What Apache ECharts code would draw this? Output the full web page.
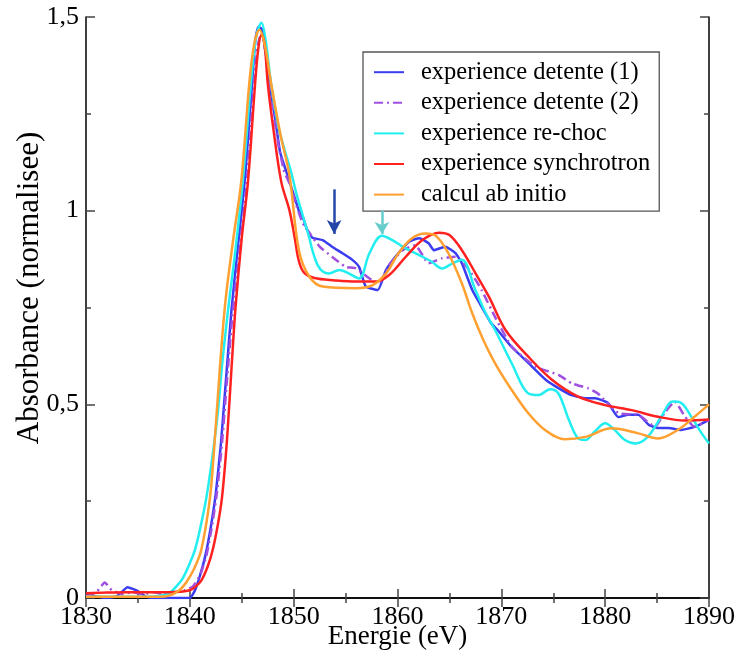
<!DOCTYPE html>
<html>
<head>
<meta charset="utf-8">
<script src="https://cdn.jsdelivr.net/npm/echarts@6/dist/echarts.min.js"></script>
<style>
html,body{margin:0;padding:0;background:#fff;}
#chart{width:738px;height:659px;}
</style>
</head>
<body>
<div id="chart"></div>
<script>
// ---- data (Energie eV, Absorbance) ----
const seriesNames = ['experience detente (1)', 'experience detente (2)', 'experience re-choc', 'experience synchrotron', 'calcul ab initio'];

const detente1 = [[1830,0.008],[1831,0.004],[1832,0.0],[1833,0.005],[1834,0.028],[1835,0.018],[1835.8,0.003],[1837,0.0],[1838,0.0],[1839,0.0],[1840,0.0],[1840.5,0.02],[1841,0.06],[1841.5,0.11],[1842,0.18],[1842.5,0.27],[1843,0.4],[1843.5,0.57],[1844,0.74],[1844.6,0.9],[1845.3,1.08],[1846.0,1.33],[1846.3,1.44],[1846.6,1.475],[1846.9,1.47],[1847.3,1.41],[1847.6,1.34],[1848.2,1.24],[1848.7,1.15],[1849.3,1.1],[1849.9,1.05],[1850.5,1.0],[1850.9,0.982],[1851.3,0.95],[1851.8,0.93],[1852.8,0.924],[1853.7,0.907],[1854.7,0.89],[1855.65,0.873],[1856.3,0.855],[1856.95,0.804],[1858.1,0.795],[1858.9,0.847],[1859.8,0.881],[1861.1,0.92],[1862.1,0.929],[1863.0,0.916],[1863.5,0.898],[1864.6,0.907],[1865.6,0.89],[1866.2,0.864],[1867.2,0.795],[1868.1,0.752],[1869.0,0.71],[1869.7,0.69],[1871.0,0.648],[1872.6,0.607],[1874.3,0.563],[1875.5,0.542],[1876.75,0.524],[1878.1,0.516],[1879.05,0.516],[1880.3,0.503],[1881.26,0.467],[1882.2,0.473],[1883.2,0.473],[1884.2,0.447],[1885.1,0.439],[1886.1,0.439],[1887.3,0.434],[1888.65,0.442],[1890,0.46]];

const detente2 = [[1830,0.005],[1831,0.015],[1831.8,0.04],[1832.5,0.02],[1833.5,0.01],[1834.5,0.015],[1835.5,0.01],[1836.5,0.015],[1837.5,0.01],[1838.5,0.015],[1839.5,0.02],[1840.3,0.03],[1841,0.06],[1841.6,0.11],[1842.1,0.18],[1842.6,0.27],[1843.1,0.4],[1843.6,0.57],[1844.1,0.73],[1844.8,0.9],[1845.5,1.075],[1846.1,1.3],[1846.5,1.42],[1846.8,1.45],[1847.1,1.44],[1847.5,1.36],[1848,1.26],[1848.6,1.16],[1849.1,1.1],[1849.6,1.07],[1850.3,1.01],[1850.9,0.967],[1852.5,0.907],[1853.7,0.881],[1855,0.855],[1856,0.851],[1857.3,0.825],[1858.2,0.812],[1859.2,0.86],[1860.5,0.898],[1861.7,0.911],[1863,0.864],[1864.3,0.877],[1865.6,0.881],[1866.9,0.847],[1868.1,0.795],[1869.5,0.72],[1871,0.649],[1873.3,0.597],[1875.5,0.576],[1876.8,0.554],[1878.4,0.541],[1879.3,0.528],[1881.3,0.477],[1883.2,0.473],[1884.8,0.442],[1885.7,0.477],[1886.7,0.507],[1887.7,0.468],[1888.6,0.442],[1890,0.46]];

const rechoc = [[1830,0.003],[1832,0.003],[1834,0.003],[1836,0.003],[1837,0.005],[1838,0.012],[1838.7,0.03],[1839.3,0.05],[1840,0.09],[1840.5,0.125],[1841,0.18],[1841.6,0.26],[1842.2,0.37],[1842.7,0.48],[1843.1,0.6],[1843.5,0.7],[1843.8,0.77],[1844.4,0.9],[1845.1,1.075],[1845.9,1.333],[1846.4,1.45],[1846.9,1.485],[1847.3,1.44],[1847.8,1.333],[1848.5,1.22],[1849.2,1.15],[1849.75,1.1],[1850.3,1.04],[1850.9,0.985],[1851.5,0.93],[1851.8,0.898],[1852.3,0.86],[1852.8,0.843],[1853.4,0.838],[1854.4,0.847],[1855.3,0.838],[1856.3,0.825],[1857.3,0.89],[1858.5,0.935],[1859.5,0.924],[1860.5,0.907],[1861.4,0.894],[1862.4,0.881],[1863.3,0.868],[1864.3,0.851],[1865.3,0.864],[1866.2,0.873],[1867.5,0.795],[1868.5,0.735],[1869.4,0.692],[1871,0.606],[1872.6,0.528],[1873.6,0.524],[1874.7,0.539],[1875.5,0.528],[1876.5,0.46],[1877.4,0.412],[1878.1,0.408],[1879,0.43],[1880,0.451],[1880.9,0.434],[1881.9,0.408],[1882.9,0.399],[1884.1,0.416],[1885.4,0.468],[1886.5,0.507],[1887.3,0.504],[1888.3,0.468],[1889.3,0.425],[1890,0.399]];

const synchrotron = [[1830,0.012],[1832,0.014],[1834,0.015],[1836,0.015],[1838,0.015],[1839,0.016],[1840,0.02],[1840.5,0.028],[1841.1,0.045],[1841.7,0.08],[1842.2,0.124],[1842.7,0.19],[1843.1,0.26],[1843.5,0.38],[1843.8,0.5],[1844.1,0.63],[1844.4,0.75],[1845,0.93],[1845.6,1.075],[1846.3,1.333],[1846.6,1.42],[1846.9,1.455],[1847.2,1.43],[1847.5,1.33],[1848,1.22],[1848.8,1.075],[1849.6,1.0],[1850.1,0.93],[1850.5,0.87],[1851,0.84],[1852,0.826],[1854,0.82],[1856,0.817],[1857.9,0.817],[1859.2,0.834],[1860.8,0.881],[1862.4,0.924],[1864,0.943],[1865,0.937],[1866.2,0.898],[1867.5,0.839],[1868.8,0.778],[1870.4,0.692],[1872.6,0.623],[1874.9,0.563],[1877.4,0.52],[1880,0.498],[1882.55,0.485],[1885.1,0.468],[1887.7,0.458],[1890,0.461]];

const abinitio = [[1830,0.003],[1834,0.003],[1837,0.003],[1838,0.006],[1839,0.02],[1839.65,0.04],[1840.4,0.075],[1841.1,0.124],[1841.9,0.25],[1842.3,0.37],[1842.9,0.597],[1843.44,0.769],[1844.2,0.93],[1844.95,1.075],[1845.74,1.333],[1846.2,1.43],[1846.7,1.467],[1847.2,1.43],[1847.8,1.333],[1848.7,1.2],[1849.6,1.09],[1850.5,0.898],[1851.5,0.83],[1852.8,0.804],[1856,0.8],[1857.6,0.808],[1858.9,0.838],[1860.1,0.89],[1861.4,0.929],[1862.7,0.941],[1863.7,0.935],[1864.9,0.89],[1866.2,0.812],[1867.2,0.735],[1868.2,0.67],[1869.4,0.606],[1871,0.537],[1872.6,0.477],[1874.2,0.434],[1876.1,0.41],[1878.1,0.416],[1880.6,0.438],[1883.2,0.425],[1885.1,0.412],[1887,0.434],[1888.6,0.468],[1890,0.5]];

// arrows (data coordinates: start, end)
const arrowBlue = [[1853.9, 1.055], [1853.9, 0.94]];
const arrowCyan = [[1858.5, 1.0], [1858.5, 0.94]];

const xTicks = [1830, 1840, 1850, 1860, 1870, 1880, 1890];
const yTicks = ['0', '0,5', '1', '1,5'];

const chart = echarts.init(document.getElementById('chart'), null, {renderer: 'canvas'});
const serif = "'Liberation Serif', 'DejaVu Serif', serif";
const colors = ['#3a3cf0', '#a050e0', '#22eef0', '#ff2020', '#ffa030'];
const datasets = [detente1, detente2, rechoc, synchrotron, abinitio];

function axisCommon(show) {
  return {
    axisLine: {show: true, lineStyle: {color: '#000', width: 1.5}},
    axisTick: {show: true, inside: true, length: 9, lineStyle: {color: '#444', width: 1.5}},
    minorTick: {show: true, splitNumber: 2, length: 5, lineStyle: {color: '#444', width: 1.5}},
    splitLine: {show: false},
    axisLabel: {show: show}
  };
}

const series = datasets.map((d, i) => ({
  name: seriesNames[i],
  type: 'line',
  data: d,
  showSymbol: false,
  symbol: 'none',
  smooth: (i === 0 || i === 1) ? 0.15 : 0.35,
  lineStyle: {color: colors[i], width: 2.5, type: i === 1 ? [9, 4, 2, 4] : 'solid'},
  itemStyle: {color: colors[i]},
  z: 2 + i
}));
series[0].markLine = {
  silent: true, symbol: ['none', 'arrow'], symbolSize: [11, 14],
  label: {show: false},
  lineStyle: {color: '#2446a8', width: 2.5, type: 'solid'},
  data: [[{coord: arrowBlue[0]}, {coord: arrowBlue[1]}]]
};
series[2].markLine = {
  silent: true, symbol: ['none', 'arrow'], symbolSize: [11, 12],
  label: {show: false},
  lineStyle: {color: '#66cccc', width: 2.5, type: 'solid'},
  data: [[{coord: arrowCyan[0]}, {coord: arrowCyan[1]}]]
};

const option = {
  animation: false,
  backgroundColor: '#fff',
  grid: {left: 86, right: 27, top: 17, bottom: 61},
  legend: {
    orient: 'vertical', left: 363, top: 52,
    data: seriesNames,
    itemWidth: 30, itemHeight: 14, itemGap: 5.6,
    padding: [7.7, 9, 4, 10],
    backgroundColor: '#fff',
    borderColor: '#555', borderWidth: 1.3,
    itemStyle: {opacity: 0},
    textStyle: {fontFamily: serif, fontSize: 24.5, color: '#000', lineHeight: 24, padding: [0, 0, 0, 12]}
  },
  xAxis: [
    Object.assign({type: 'value', min: 1830, max: 1890, interval: 10, position: 'bottom',
      name: 'Energie (eV)', nameLocation: 'middle', nameGap: 25, nameMoveOverlap: false,
      nameTextStyle: {fontFamily: serif, fontSize: 27, color: '#000', verticalAlign: 'top'}}, axisCommon(true), {
      axisLabel: {show: true, fontFamily: serif, fontSize: 26, color: '#000', margin: 6,
        formatter: v => xTicks.indexOf(v) >= 0 ? String(v) : ''}
    }),
    Object.assign({type: 'value', min: 1830, max: 1890, interval: 10, position: 'top'}, axisCommon(false))
  ],
  yAxis: [
    Object.assign({type: 'value', min: 0, max: 1.5, interval: 0.5, position: 'left'}, axisCommon(true), {
      axisLabel: {show: true, fontFamily: serif, fontSize: 26, color: '#000', margin: 7,
        formatter: v => yTicks[Math.round(v * 2)]}
    }),
    Object.assign({type: 'value', min: 0, max: 1.5, interval: 0.5, position: 'right'}, axisCommon(false))
  ],
  graphic: [{
    type: 'text', x: 30, y: 288, rotation: Math.PI / 2,
    style: {text: 'Absorbance (normalisee)', fontFamily: serif, fontSize: 31, fill: '#000',
      textAlign: 'center', textVerticalAlign: 'middle'}
  }],
  series: series
};
chart.setOption(option);
</script>
</body>
</html>
